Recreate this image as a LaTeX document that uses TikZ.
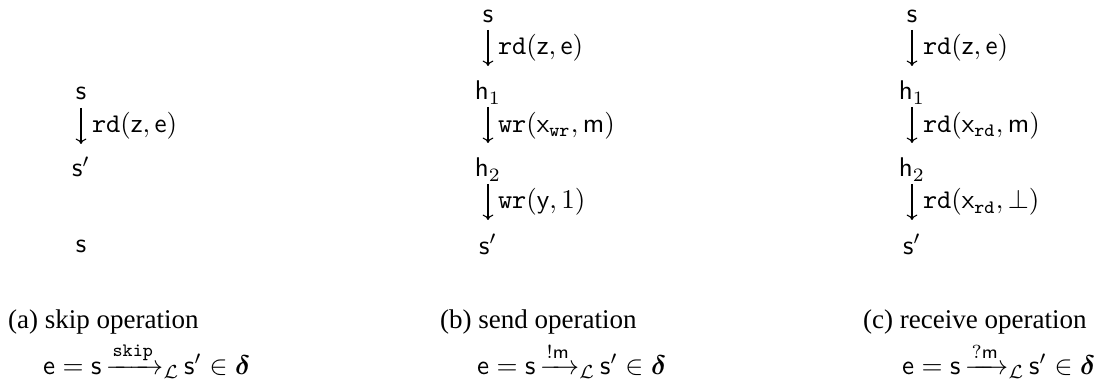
\documentclass[tikz,border=0pt]{standalone}
\usepackage{amsmath}
\usepackage{fontspec}
\newfontfamily\capfont{Liberation Serif}
\usetikzlibrary{arrows.meta,calc}
\tikzset{
  st/.style={inner sep=0pt, outer sep=0pt, anchor=base},
  lbl/.style={inner sep=0pt, outer sep=0pt, anchor=base west},
  captext/.style={inner sep=0pt, outer sep=0pt, anchor=base west, font=\capfont},
  arr/.style={line width=0.4pt, -{Computer Modern Rightarrow[length=2pt,width=4pt]}},
}
\newcommand{\steparrow}[1]{\,{\xrightarrow{#1}_{\mathcal{L}}}\,}
\begin{document}
\begin{tikzpicture}[x=0.37pt,y=-0.37pt]
\useasboundingbox (0,0) rectangle (1096,381);
% (a) skip
\node[st] (a1) at (81,100) {$\mathsf{s}$};
\node[st] (a2) at (81,177) {$\mathsf{s}'$};
\node[st] (a3) at (81,253) {$\mathsf{s}$};
\node[lbl] (la1) at (92,132) {$\mathtt{rd}(\mathsf{z},\mathsf{e})$};
\draw[arr] ($(a1.base)+(0,8)$) -- ($(a1.base |- a2.base)+(0,-33)$);
% (b) send
\node[st] (b1) at (488,23) {$\mathsf{s}$};
\node[st] (b2) at (488,100) {$\mathsf{h}_1$};
\node[st] (b3) at (488,177) {$\mathsf{h}_2$};
\node[st] (b4) at (488,254) {$\mathsf{s}'$};
\node[lbl] (lb1) at (498,55) {$\mathtt{rd}(\mathsf{z},\mathsf{e})$};
\node[lbl] (lb2) at (498,132) {$\mathtt{wr}(\mathsf{x}_{\mathtt{wr}},\mathsf{m})$};
\node[lbl] (lb3) at (498,209) {$\mathtt{wr}(\mathsf{y},1)$};
\draw[arr] ($(b1.base)+(0,7)$) -- ($(b1.base |- b2.base)+(0,-34)$);
\draw[arr] ($(b2.base)+(0,7)$) -- ($(b2.base |- b3.base)+(0,-34)$);
\draw[arr] ($(b3.base)+(0,7)$) -- ($(b3.base |- b4.base)+(0,-34)$);
% (c) receive
\node[st] (c1) at (912,23) {$\mathsf{s}$};
\node[st] (c2) at (912,100) {$\mathsf{h}_1$};
\node[st] (c3) at (912,177) {$\mathsf{h}_2$};
\node[st] (c4) at (912,254) {$\mathsf{s}'$};
\node[lbl] (lc1) at (923,55) {$\mathtt{rd}(\mathsf{z},\mathsf{e})$};
\node[lbl] (lc2) at (923,132) {$\mathtt{rd}(\mathsf{x}_{\mathtt{rd}},\mathsf{m})$};
\node[lbl] (lc3) at (923,209) {$\mathtt{rd}(\mathsf{x}_{\mathtt{rd}},\bot)$};
\draw[arr] ($(c1.base)+(0,7)$) -- ($(c1.base |- c2.base)+(0,-34)$);
\draw[arr] ($(c2.base)+(0,7)$) -- ($(c2.base |- c3.base)+(0,-34)$);
\draw[arr] ($(c3.base)+(0,7)$) -- ($(c3.base |- c4.base)+(0,-34)$);
% captions
\node[captext] (capa) at (8,328) {(a) skip operation};
\node[lbl] (fa) at (43,374) {$\mathsf{e}=\mathsf{s}\steparrow{\mathtt{skip}}\mathsf{s}'\in\boldsymbol{\delta}$};
\node[captext] (capb) at (440,328) {(b) send operation};
\node[lbl] (fb) at (477,374) {$\mathsf{e}=\mathsf{s}\steparrow{!\mathsf{m}}\mathsf{s}'\in\boldsymbol{\delta}$};
\node[captext] (capc) at (863,328) {(c) receive operation};
\node[lbl] (fc) at (902,374) {$\mathsf{e}=\mathsf{s}\steparrow{?\mathsf{m}}\mathsf{s}'\in\boldsymbol{\delta}$};
\end{tikzpicture}
\end{document}
